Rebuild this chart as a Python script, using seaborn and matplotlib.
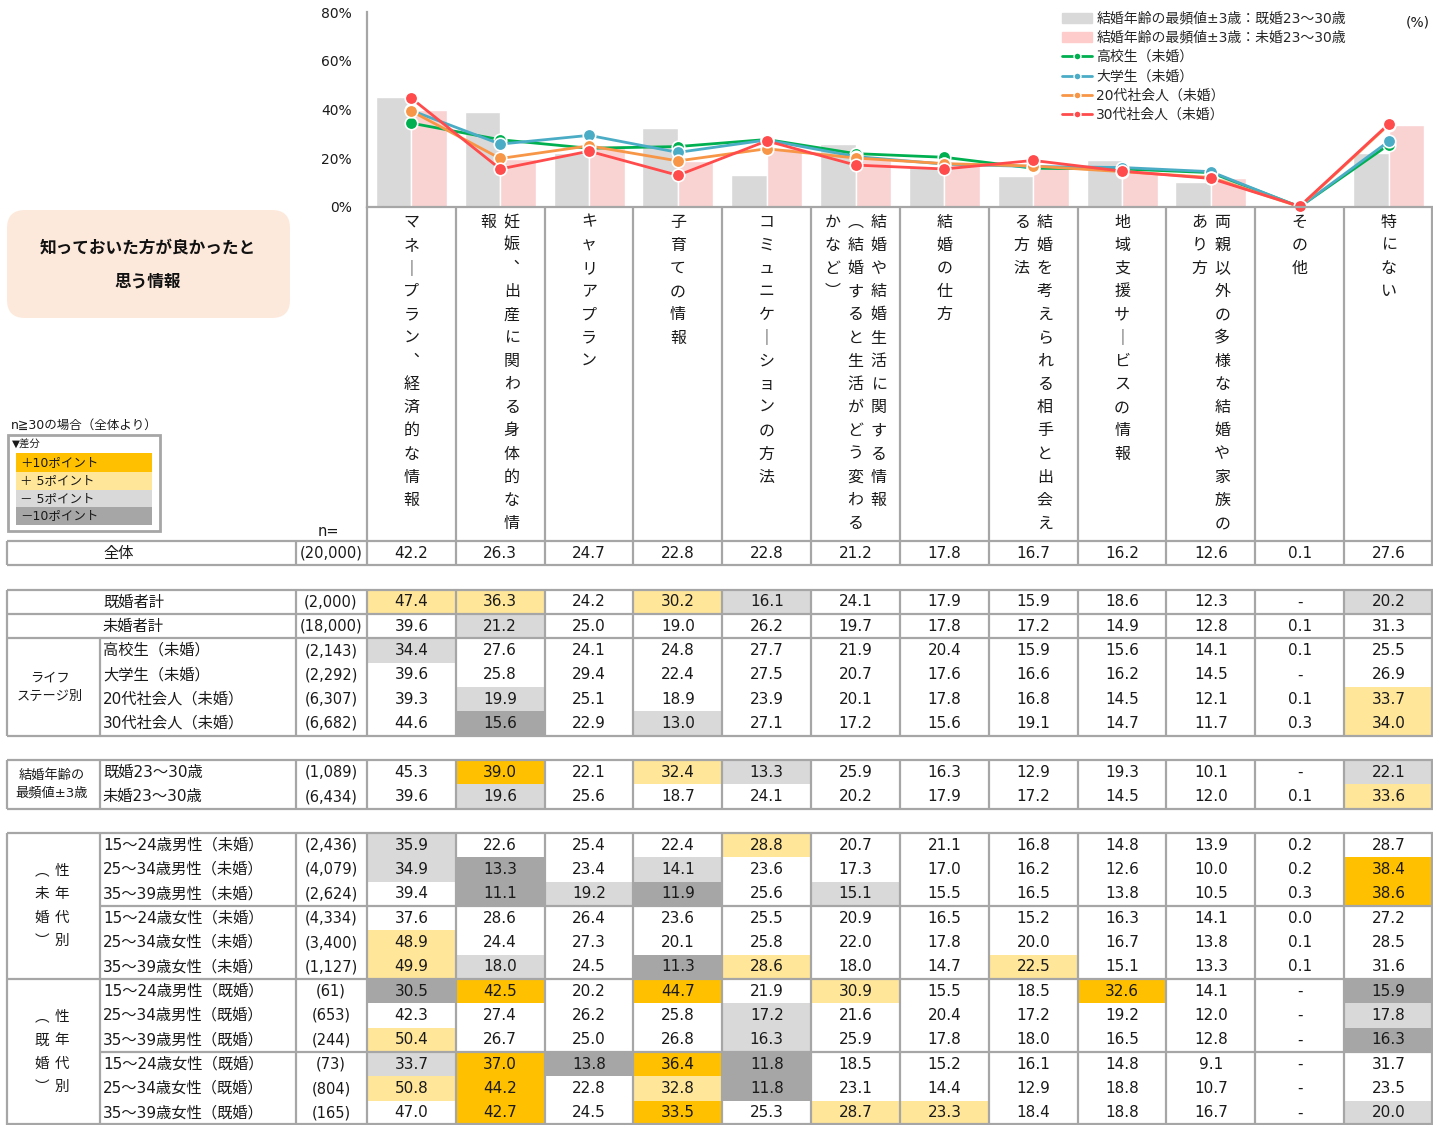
import numpy as np
import pandas as pd
import matplotlib.pyplot as plt
from matplotlib.colors import ListedColormap
from matplotlib.patches import Rectangle, FancyBboxPatch, Patch
from matplotlib.lines import Line2D
import seaborn as sns

sns.set_style("white")
plt.rcParams['font.family'] = ['DejaVu Sans', 'Noto Sans CJK JP']

# ---------------------------------------------- data ---------------------------------------------- #
items = ["マネープラン、経済的な情報", "妊娠、出産に関わる身体的な情報", "キャリアプラン", "子育ての情報",
         "コミュニケーションの方法", "結婚や結婚生活に関する情報\n（結婚すると生活がどう変わるかなど）",
         "結婚の仕方", "結婚を考えられる相手と出会える方法", "地域支援サービスの情報",
         "両親以外の多様な結婚や家族のあり方", "その他", "特にない"]

overall = [42.2, 26.3, 24.7, 22.8, 22.8, 21.2, 17.8, 16.7, 16.2, 12.6, 0.1, 27.6]

marital_labels = ["既婚者計", "未婚者計"]
marital_n = ["(2,000)", "(18,000)"]
marital_vals = [
    [47.4, 36.3, 24.2, 30.2, 16.1, 24.1, 17.9, 15.9, 18.6, 12.3, None, 20.2],
    [39.6, 21.2, 25.0, 19.0, 26.2, 19.7, 17.8, 17.2, 14.9, 12.8, 0.1, 31.3],
]

stage_labels = ["高校生（未婚）", "大学生（未婚）", "20代社会人（未婚）", "30代社会人（未婚）"]
stage_n = ["(2,143)", "(2,292)", "(6,307)", "(6,682)"]
stage_vals = [
    [34.4, 27.6, 24.1, 24.8, 27.7, 21.9, 20.4, 15.9, 15.6, 14.1, 0.1, 25.5],
    [39.6, 25.8, 29.4, 22.4, 27.5, 20.7, 17.6, 16.6, 16.2, 14.5, None, 26.9],
    [39.3, 19.9, 25.1, 18.9, 23.9, 20.1, 17.8, 16.8, 14.5, 12.1, 0.1, 33.7],
    [44.6, 15.6, 22.9, 13.0, 27.1, 17.2, 15.6, 19.1, 14.7, 11.7, 0.3, 34.0],
]

mode_labels = ["既婚23～30歳", "未婚23～30歳"]
mode_n = ["(1,089)", "(6,434)"]
mode_vals = [
    [45.3, 39.0, 22.1, 32.4, 13.3, 25.9, 16.3, 12.9, 19.3, 10.1, None, 22.1],
    [39.6, 19.6, 25.6, 18.7, 24.1, 20.2, 17.9, 17.2, 14.5, 12.0, 0.1, 33.6],
]

single_labels = ["15～24歳男性（未婚）", "25～34歳男性（未婚）", "35～39歳男性（未婚）",
                 "15～24歳女性（未婚）", "25～34歳女性（未婚）", "35～39歳女性（未婚）"]
single_n = ["(2,436)", "(4,079)", "(2,624)", "(4,334)", "(3,400)", "(1,127)"]
single_vals = [
    [35.9, 22.6, 25.4, 22.4, 28.8, 20.7, 21.1, 16.8, 14.8, 13.9, 0.2, 28.7],
    [34.9, 13.3, 23.4, 14.1, 23.6, 17.3, 17.0, 16.2, 12.6, 10.0, 0.2, 38.4],
    [39.4, 11.1, 19.2, 11.9, 25.6, 15.1, 15.5, 16.5, 13.8, 10.5, 0.3, 38.6],
    [37.6, 28.6, 26.4, 23.6, 25.5, 20.9, 16.5, 15.2, 16.3, 14.1, 0.0, 27.2],
    [48.9, 24.4, 27.3, 20.1, 25.8, 22.0, 17.8, 20.0, 16.7, 13.8, 0.1, 28.5],
    [49.9, 18.0, 24.5, 11.3, 28.6, 18.0, 14.7, 22.5, 15.1, 13.3, 0.1, 31.6],
]

married_labels = ["15～24歳男性（既婚）", "25～34歳男性（既婚）", "35～39歳男性（既婚）",
                  "15～24歳女性（既婚）", "25～34歳女性（既婚）", "35～39歳女性（既婚）"]
married_n = ["(61)", "(653)", "(244)", "(73)", "(804)", "(165)"]
married_vals = [
    [30.5, 42.5, 20.2, 44.7, 21.9, 30.9, 15.5, 18.5, 32.6, 14.1, None, 15.9],
    [42.3, 27.4, 26.2, 25.8, 17.2, 21.6, 20.4, 17.2, 19.2, 12.0, None, 17.8],
    [50.4, 26.7, 25.0, 26.8, 16.3, 25.9, 17.8, 18.0, 16.5, 12.8, None, 16.3],
    [33.7, 37.0, 13.8, 36.4, 11.8, 18.5, 15.2, 16.1, 14.8, 9.1, None, 31.7],
    [50.8, 44.2, 22.8, 32.8, 11.8, 23.1, 14.4, 12.9, 18.8, 10.7, None, 23.5],
    [47.0, 42.7, 24.5, 33.5, 25.3, 28.7, 23.3, 18.4, 18.8, 16.7, None, 20.0],
]

bar_series = ["結婚年齢の最頻値±3歳：既婚23～30歳", "結婚年齢の最頻値±3歳：未婚23～30歳"]
bar_colors = ["#D9D9D9", "#FFCCCC"]
line_colors = ["#00B050", "#4BACC6", "#F79646", "#FF4B4B"]
cell_colors = ["#FFFFFF", "#FFE699", "#FFC000", "#D9D9D9", "#A6A6A6"]

# ---------------------------------------------- layout ---------------------------------------------- #
W, H = 1433, 1125
X0, X1 = 367, 1433
COLW = (X1 - X0) / 12
T0 = 541
NSLOT = 24
RH = (H - T0) / NSLOT
LC = "#A6A6A6"
TXT = "#1A1A1A"

fig = plt.figure(figsize=(W / 100, H / 100), dpi=100)

# ---------------------------------------------- chart ---------------------------------------------- #
ax = fig.add_axes([X0 / W, 1 - 207 / H, (X1 - X0) / W, (207 - 12) / H], zorder=2)
ax.patch.set_alpha(0)

bars = pd.DataFrame({
    "item": items * 2,
    "value": np.nan_to_num(np.array(mode_vals[0] + mode_vals[1], dtype=float)),
    "series": [bar_series[0]] * 12 + [bar_series[1]] * 12,
})
sns.barplot(data=bars, x="item", y="value", hue="series", order=items, hue_order=bar_series,
            palette=bar_colors, width=0.8, errorbar=None, legend=False, ax=ax)

# "-" is plotted as 0 in the chart
lines = pd.DataFrame({
    "pos": list(range(12)) * 4,
    "value": np.nan_to_num(np.array(sum(stage_vals, []), dtype=float)),
    "series": [s for s in stage_labels for _ in range(12)],
})
sns.lineplot(data=lines, x="pos", y="value", hue="series", hue_order=stage_labels,
             palette=line_colors, marker="o", markersize=9, markeredgecolor="white",
             markeredgewidth=1.2, linewidth=2, legend=False, clip_on=False, ax=ax)

ax.set_xlim(-0.5, 11.5)
ax.set_ylim(0, 80)
ax.set_yticks([0, 20, 40, 60, 80])
ax.set_yticklabels([f"{v}%" for v in [0, 20, 40, 60, 80]])
ax.tick_params(axis="y", length=0, pad=11, labelsize=10, labelcolor=TXT)
ax.tick_params(axis="x", length=0, labelbottom=False)
ax.set_xlabel("")
ax.set_ylabel("")
for s in ["top", "right"]:
    ax.spines[s].set_visible(False)
for s in ["left", "bottom"]:
    ax.spines[s].set_color(LC)
    ax.spines[s].set_linewidth(1.6)

handles = [Patch(color=c) for c in bar_colors] + [
    Line2D([], [], color=c, lw=2, marker="o", markersize=5, markeredgecolor="white") for c in line_colors]
ax.legend(handles, bar_series + stage_labels, loc="upper left", bbox_to_anchor=(1056 / W, 1 - 6 / H),
          bbox_transform=fig.transFigure, frameon=False, fontsize=10, handlelength=2.2,
          handletextpad=0.3, labelspacing=0.38, borderaxespad=0)

# ---------------------------------------------- table cells (heatmap) ---------------------------------------------- #
blocks = [(0, [overall]), (2, marital_vals), (4, stage_vals), (9, mode_vals),
          (12, single_vals), (18, married_vals)]
codes = np.full((NSLOT, 12), np.nan)
annot = np.full((NSLOT, 12), "", dtype=object)
for start, rows in blocks:
    for i, row in enumerate(rows):
        for j, v in enumerate(row):
            if v is None:
                codes[start + i, j] = 0
                annot[start + i, j] = "-"
                continue
            d = round(v - overall[j], 1)
            codes[start + i, j] = 2 if d > 10 else 1 if d >= 5 else 4 if d < -10 else 3 if d <= -5 else 0
            annot[start + i, j] = f"{v:.1f}"

axh = fig.add_axes([X0 / W, 0, (X1 - X0) / W, (H - T0) / H], zorder=1)
sns.heatmap(codes, mask=np.isnan(codes), cmap=ListedColormap(cell_colors), vmin=-0.5, vmax=4.5,
            cbar=False, annot=annot, fmt="", annot_kws={"fontsize": 11, "color": TXT},
            xticklabels=False, yticklabels=False, linewidths=0, ax=axh)
axh.set_facecolor("white")

# ---------------------------------------------- overlay: labels and grid ---------------------------------------------- #
ov = fig.add_axes([0, 0, 1, 1], zorder=5)
ov.set_xlim(0, W)
ov.set_ylim(H, 0)
ov.axis("off")
ov.patch.set_alpha(0)

VERT = {"ー": "｜", "、": "︑", "（": "︵", "）": "︶"}


def vtext(xc, y_first, text, per_col, step, gap, fs):
    chunks = []
    for part in text.split("\n"):
        chunks += [part[i:i + per_col] for i in range(0, len(part), per_col)]
    n = len(chunks)
    for c, chunk in enumerate(chunks):
        x = xc + (n - 1) / 2 * gap - c * gap
        for r, ch in enumerate(chunk):
            ov.text(x, y_first + r * step, VERT.get(ch, ch), ha="center", va="center",
                    fontsize=fs, color=TXT, family=['Noto Sans CJK JP', 'DejaVu Sans'])


def ys(slot):
    return T0 + slot * RH


# header
for k in range(13):
    x = min(X0 + k * COLW, W - 1)
    ov.plot([x, x], [207, T0], color=LC, lw=1.6, solid_capstyle="butt")
for j, it in enumerate(items):
    vtext(X0 + (j + 0.5) * COLW, 222, it, 14, 23.2, 23, 11.5)


# table grid lines
def hline(y, x0=7):
    ov.plot([x0, W], [y, y], color=LC, lw=1.6, solid_capstyle="butt")


def vgrid(y0, y1, sub=False):
    xs = [7, 296] + [min(X0 + k * COLW, W - 1) for k in range(13)]
    if sub:
        xs.append(100)
    for x in xs:
        ov.plot([x, x], [y0, y1], color=LC, lw=1.6, solid_capstyle="butt")


hline(ys(0)); hline(ys(1)); vgrid(ys(0), ys(1))
hline(ys(2)); hline(ys(3)); hline(ys(4)); hline(ys(8))
vgrid(ys(2), ys(8))
ov.plot([100, 100], [ys(4), ys(8)], color=LC, lw=1.6)
hline(ys(9)); hline(ys(11)); vgrid(ys(9), ys(11), sub=True)
hline(ys(12)); hline(ys(18)); hline(H - 1); hline(ys(15), 100); hline(ys(21), 100)
vgrid(ys(12), H, sub=True)

# row labels
row_text = [(0, ["全体"], ["(20,000)"]), (2, marital_labels, marital_n), (4, stage_labels, stage_n),
            (9, mode_labels, mode_n), (12, single_labels, single_n), (18, married_labels, married_n)]
for start, labs, ns in row_text:
    for i, (lab, n) in enumerate(zip(labs, ns)):
        yc = ys(start + i + 0.5)
        ov.text(103, yc, lab, ha="left", va="center", fontsize=11, color=TXT)
        ov.text(331, yc, n, ha="center", va="center", fontsize=10.5, color=TXT)

ov.text(50, ys(6), "ライフ\nステージ別", ha="center", va="center", fontsize=9.5,
        color=TXT, multialignment="center", linespacing=1.5)
ov.text(52, ys(10), "結婚年齢の\n最頻値±3歳", ha="center", va="center", fontsize=9.5,
        color=TXT, multialignment="center", linespacing=1.5)
vtext(52, ys(15) - 1.5 * 23.5, "性年代別（未婚）", 4, 23.5, 20, 10.5)
vtext(52, ys(21) - 1.5 * 23.5, "性年代別（既婚）", 4, 23.5, 20, 10.5)
ov.text(328, 531, "n=", ha="center", va="center", fontsize=10.5, color=TXT)

# title box
ov.add_patch(FancyBboxPatch((7, 210), 283, 108, boxstyle="round,pad=0,rounding_size=18",
                            facecolor="#FCE9DB", edgecolor="none"))
ov.text(148, 248, "知っておいた方が良かったと", ha="center", va="center", fontsize=12,
        fontweight="bold", color="#111111")
ov.text(148, 281, "思う情報", ha="center", va="center", fontsize=12,
        fontweight="bold", color="#111111")

# difference key
ov.text(11, 425, "n≧30の場合（全体より）", ha="left", va="center", fontsize=9, color=TXT)
ov.add_patch(Rectangle((8, 435), 152, 96, facecolor="white", edgecolor=LC, lw=2))
ov.text(12, 445, "▼差分", ha="left", va="center", fontsize=7.5, color=TXT)
key_labels = ["＋10ポイント", "＋ 5ポイント", "－ 5ポイント", "－10ポイント"]
key_colors = [cell_colors[2], cell_colors[1], cell_colors[3], cell_colors[4]]
key_tops = [453, 472, 490, 507]
key_h = [19, 18, 17, 18]
for lab, c, t, h in zip(key_labels, key_colors, key_tops, key_h):
    ov.add_patch(Rectangle((16, t), 136, h, facecolor=c, edgecolor="none"))
    ov.text(20, t + h / 2, lab, ha="left", va="center", fontsize=9, color=TXT)

ov.text(1430, 22, "(%)", ha="right", va="center", fontsize=10, color=TXT)

fig.savefig("out.png", dpi=100)
